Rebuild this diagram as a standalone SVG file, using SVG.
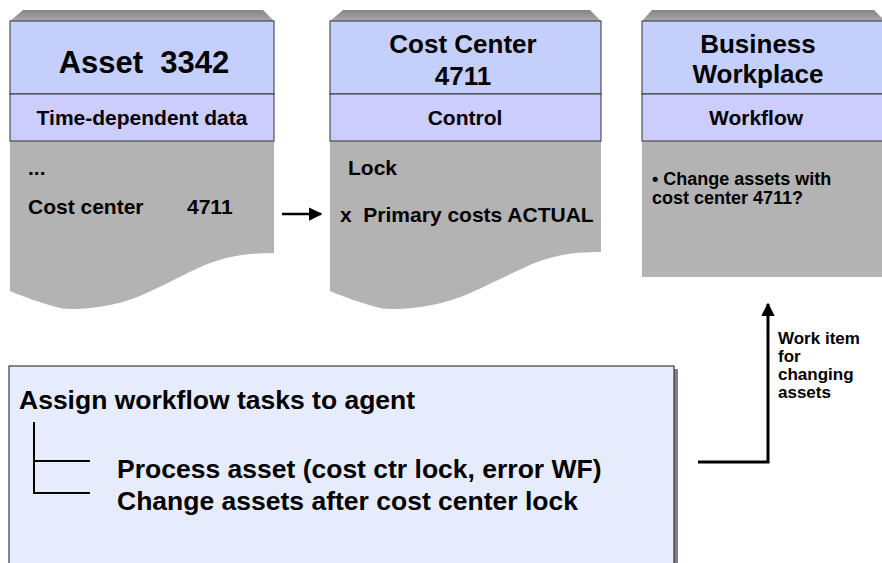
<svg xmlns="http://www.w3.org/2000/svg" width="882" height="563" viewBox="0 0 882 563">
  <defs>
    <linearGradient id="bevel" x1="0" y1="0" x2="0" y2="1">
      <stop offset="0" stop-color="#858585"/>
      <stop offset="1" stop-color="#a8a8a8"/>
    </linearGradient>
    <marker id="arrow" viewBox="0 0 10 10" refX="9" refY="5" markerWidth="5.3" markerHeight="5.3" markerUnits="strokeWidth" orient="auto">
      <path d="M0,0 L10,5 L0,10 Z" fill="#000"/>
    </marker>
    <marker id="arrowUp" viewBox="0 0 10 10" refX="9" refY="5" markerWidth="4.6" markerHeight="5" markerUnits="strokeWidth" orient="auto">
      <path d="M0,0 L10,5 L0,10 Z" fill="#000"/>
    </marker>
  </defs>
  <style>
    text { font-family: "Liberation Sans", Arial, sans-serif; font-weight: bold; fill: #000; }
    .bevel { fill: url(#bevel); }
    .head { fill: #c5cffc; stroke: #333; stroke-width: 1; }
    .band { fill: #ccccfd; stroke: #333; stroke-width: 1; }
    .body { fill: #b3b3b3; }
    .title { font-size: 26px; text-anchor: middle; }
    .sub { font-size: 21px; text-anchor: middle; }
    .txt { font-size: 21px; }
    .big { font-size: 26.5px; }
    .lbl { font-size: 17px; }
    .line { fill: none; stroke: #000; stroke-width: 2.5; }
  </style>

  <g id="asset">
    <polygon class="bevel" points="23,10 263,10 274,21 10,21"/>
    <path class="body" d="M10,141 H274 V253 C250,253 230,255 205,265 C175,278 140,300 110,305 C90,309 72,310 60,308 C40,303 20,295 10,291 Z"/>
    <rect class="head" x="10" y="21" width="264" height="73"/>
    <rect class="band" x="10" y="94" width="264" height="47"/>
    <text x="144" y="73" font-size="31" text-anchor="middle" xml:space="preserve">Asset  3342</text>
    <text class="sub" x="142" y="125">Time-dependent data</text>
    <text class="txt" x="28" y="175">...</text>
    <text class="txt" x="28" y="214">Cost center</text>
    <text class="txt" x="187" y="214">4711</text>
  </g>

  <g id="costcenter">
    <polygon class="bevel" points="343,10 590,10 601,21 330,21"/>
    <path class="body" d="M330,141 H601 V252 C577,252 557,254 532,264 C500,278 463,300 432,305 C412,309 392,310 380,308 C360,303 340,295 330,291 Z"/>
    <rect class="head" x="330" y="21" width="271" height="73"/>
    <rect class="band" x="330" y="94" width="271" height="47"/>
    <text class="title" x="463" y="53">Cost Center</text>
    <text class="title" x="463" y="85">4711</text>
    <text class="sub" x="465" y="125">Control</text>
    <text class="txt" x="348" y="175">Lock</text>
    <text class="txt" x="340" y="222" xml:space="preserve">x  Primary costs ACTUAL</text>
  </g>

  <g id="workplace">
    <polygon class="bevel" points="652,10 874,10 885,21 642,21"/>
    <rect class="body" x="642" y="141" width="250" height="136"/>
    <rect class="head" x="642" y="21" width="250" height="73"/>
    <rect class="band" x="642" y="94" width="250" height="47"/>
    <text class="title" x="758" y="53">Business</text>
    <text class="title" x="758" y="83">Workplace</text>
    <text class="sub" x="756" y="125">Workflow</text>
    <text x="652" y="185" font-size="18">• Change assets with</text>
    <text x="652" y="204" font-size="18">cost center 4711?</text>
  </g>

  <g id="assign">
    <rect x="674" y="369" width="4" height="200" fill="#808080"/>
    <rect x="9" y="366" width="665" height="205" fill="#e7ecfd" stroke="#3a3a3a" stroke-width="1.2"/>
    <text class="big" x="19" y="409">Assign workflow tasks to agent</text>
    <path d="M34,422 V494 M34,461 H90 M34,493 H90" fill="none" stroke="#000" stroke-width="2"/>
    <text class="big" x="117" y="478">Process asset (cost ctr lock, error WF)</text>
    <text class="big" x="117" y="510">Change assets after cost center lock</text>
  </g>

  <g id="connectors">
    <line class="line" x1="282" y1="214" x2="321" y2="214" marker-end="url(#arrow)"/>
    <polyline fill="none" stroke="#000" stroke-width="3" points="698,462 768,462 768,304" marker-end="url(#arrowUp)"/>
  </g>

  <g id="workitem-label">
    <text class="lbl" x="778" y="344"><tspan x="778" y="344">Work item</tspan><tspan x="778" y="362">for</tspan><tspan x="778" y="380">changing</tspan><tspan x="778" y="398">assets</tspan></text>
  </g>
</svg>
